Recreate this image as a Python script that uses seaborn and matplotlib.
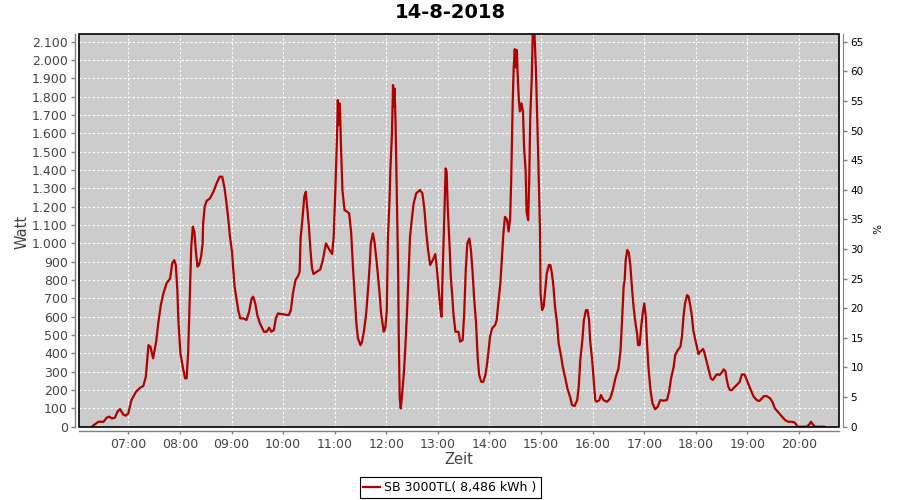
import matplotlib
matplotlib.use("Agg")
import matplotlib.pyplot as plt
import seaborn as sns
import pandas as pd
from matplotlib.ticker import FixedLocator, FuncFormatter
from matplotlib.patches import Rectangle

title = "14-8-2018"
series_name = "SB 3000TL( 8,486 kWh )"

# time of day in decimal hours, power in Watt
hours = [
    6.29, 6.42, 6.52, 6.58, 6.63, 6.68, 6.74, 6.79, 6.84, 6.90, 6.95, 7.00,
    7.06, 7.15, 7.23, 7.29, 7.34, 7.39, 7.43, 7.48, 7.54, 7.58, 7.63, 7.68,
    7.74, 7.81, 7.85, 7.89, 7.92, 7.95, 7.97, 8.01, 8.06, 8.10, 8.13, 8.16,
    8.19, 8.22, 8.25, 8.28, 8.31, 8.34, 8.37, 8.41, 8.44, 8.45, 8.48, 8.52,
    8.58, 8.65, 8.71, 8.77, 8.82, 8.86, 8.90, 8.94, 8.97, 9.01, 9.03, 9.06,
    9.10, 9.13, 9.17, 9.23, 9.29, 9.34, 9.39, 9.42, 9.46, 9.50, 9.55, 9.63,
    9.68, 9.73, 9.77, 9.82, 9.86, 9.90, 9.97, 10.11, 10.15, 10.19, 10.24, 10.29,
    10.32, 10.34, 10.37, 10.41, 10.44, 10.46, 10.50, 10.53, 10.56, 10.59, 10.65, 10.72,
    10.77, 10.83, 10.90, 10.95, 10.98, 11.01, 11.045, 11.06, 11.08, 11.10, 11.12, 11.15,
    11.19, 11.24, 11.28, 11.32, 11.35, 11.39, 11.42, 11.45, 11.50, 11.53, 11.57, 11.61,
    11.65, 11.68, 11.70, 11.74, 11.77, 11.81, 11.84, 11.87, 11.90, 11.95, 11.98, 12.01,
    12.03, 12.06, 12.08, 12.11, 12.13, 12.15, 12.16, 12.18, 12.19, 12.21, 12.23, 12.24,
    12.26, 12.28, 12.30, 12.34, 12.37, 12.40, 12.43, 12.46, 12.50, 12.53, 12.58, 12.65,
    12.70, 12.74, 12.77, 12.81, 12.85, 12.90, 12.95, 12.98, 13.01, 13.05, 13.07, 13.09,
    13.11, 13.13, 13.15, 13.17, 13.19, 13.23, 13.25, 13.28, 13.30, 13.34, 13.40, 13.43,
    13.48, 13.51, 13.54, 13.57, 13.61, 13.64, 13.67, 13.70, 13.74, 13.77, 13.80, 13.84,
    13.88, 13.92, 13.95, 13.98, 14.01, 14.05, 14.11, 14.14, 14.17, 14.21, 14.24, 14.27,
    14.30, 14.34, 14.37, 14.40, 14.42, 14.45, 14.47, 14.49, 14.51, 14.53, 14.55, 14.57,
    14.59, 14.62, 14.65, 14.67, 14.70, 14.72, 14.75, 14.77, 14.79, 14.82, 14.84, 14.87,
    14.90, 14.92, 14.94, 14.96, 14.98, 14.99, 15.02, 15.05, 15.08, 15.11, 15.15, 15.18,
    15.21, 15.24, 15.27, 15.31, 15.34, 15.39, 15.42, 15.47, 15.51, 15.57, 15.60, 15.65,
    15.70, 15.73, 15.76, 15.80, 15.83, 15.87, 15.90, 15.93, 15.95, 15.99, 16.02, 16.05,
    16.08, 16.13, 16.16, 16.21, 16.28, 16.34, 16.39, 16.44, 16.50, 16.54, 16.57, 16.60,
    16.62, 16.64, 16.67, 16.70, 16.73, 16.76, 16.79, 16.83, 16.86, 16.88, 16.91, 16.94,
    16.97, 17.00, 17.03, 17.05, 17.08, 17.12, 17.16, 17.21, 17.26, 17.31, 17.37, 17.44,
    17.48, 17.52, 17.57, 17.60, 17.65, 17.70, 17.73, 17.76, 17.79, 17.83, 17.86, 17.89,
    17.92, 17.95, 17.99, 18.02, 18.05, 18.08, 18.14, 18.16, 18.20, 18.25, 18.29, 18.33,
    18.37, 18.41, 18.46, 18.50, 18.54, 18.57, 18.60, 18.63, 18.66, 18.70, 18.74, 18.79,
    18.85, 18.89, 18.94, 18.97, 19.02, 19.06, 19.12, 19.18, 19.23, 19.28, 19.32, 19.37,
    19.44, 19.49, 19.53, 19.60, 19.66, 19.73, 19.79, 19.86, 19.92, 19.97, 20.15, 20.20,
    20.23, 20.26, 20.31, 20.49,
]
watt = [
    0, 27, 27, 49, 55, 45, 49, 82, 96, 67, 60, 73,
    145, 191, 213, 222, 273, 445, 436, 373, 464, 564, 664, 727,
    782, 809, 891, 909, 882, 745, 582, 400, 318, 264, 264, 409,
    700, 982, 1091, 1064, 955, 873, 882, 927, 1000, 1109, 1200, 1233,
    1245, 1282, 1327, 1364, 1364, 1309, 1227, 1127, 1036, 955, 873, 764,
    691, 636, 591, 591, 582, 627, 700, 709, 673, 609, 564, 518,
    518, 540, 518, 527, 591, 618, 614, 609, 636, 727, 800, 822,
    845, 1036, 1118, 1254, 1282, 1218, 1091, 964, 864, 833, 845, 858,
    909, 1000, 964, 942, 1036, 1273, 1582, 1782, 1645, 1764, 1545, 1291,
    1182, 1173, 1164, 1055, 891, 709, 564, 482, 445, 464, 527, 618,
    764, 891, 1000, 1055, 1009, 909, 818, 727, 618, 518, 536, 636,
    1018, 1218, 1409, 1600, 1864, 1745, 1845, 1655, 1491, 1182, 836, 527,
    155, 100, 155, 291, 436, 618, 818, 1036, 1145, 1218, 1273, 1291,
    1273, 1182, 1073, 964, 882, 909, 942, 864, 764, 636, 600, 818,
    1000, 1200, 1409, 1391, 1200, 964, 818, 709, 618, 518, 518, 464,
    473, 618, 855, 1000, 1027, 964, 855, 709, 564, 382, 282, 245,
    245, 282, 336, 409, 491, 536, 555, 582, 673, 780, 920, 1055,
    1145, 1130, 1065, 1135, 1335, 1775, 1964, 2060, 1960, 2055, 1891, 1782,
    1720, 1764, 1720, 1527, 1400, 1170, 1127, 1345, 1691, 1909, 2160, 2160,
    1945, 1745, 1527, 1291, 1055, 727, 636, 655, 745, 836, 882, 882,
    836, 764, 655, 564, 455, 382, 327, 264, 209, 155, 118, 113,
    145, 218, 364, 473, 582, 636, 636, 582, 473, 364, 255, 145,
    136, 145, 173, 145, 136, 155, 200, 264, 318, 418, 582, 764,
    800, 909, 964, 950, 880, 764, 660, 564, 509, 445, 445, 545,
    618, 673, 600, 473, 327, 200, 127, 95, 109, 145, 142, 145,
    191, 264, 327, 391, 418, 436, 491, 600, 673, 718, 709, 664,
    609, 527, 473, 436, 396, 409, 424, 409, 364, 309, 264, 255,
    273, 287, 282, 295, 313, 305, 255, 218, 200, 200, 213, 227,
    245, 285, 285, 267, 231, 204, 164, 145, 140, 155, 167, 167,
    155, 131, 100, 78, 58, 36, 27, 27, 22, 0, 0, 13,
    27, 15, 0, 0,
]

hour_ticks = list(range(7, 21))
watt_ticks = list(range(0, 2101, 100))
pct_ticks = list(range(0, 66, 5))

x_range = (6.044, 20.78)
watt_max = 2141
watt_per_pct = 2100 / 65

df = pd.DataFrame({"Zeit": hours, "Watt": watt})

fig = plt.figure(figsize=(9, 5), dpi=100)
ax = fig.add_axes([79 / 900, 1 - 426.7 / 500, (839.3 - 79) / 900, (426.7 - 34.3) / 500])
ax.set_facecolor("#cccccc")

sns.lineplot(data=df, x="Zeit", y="Watt", ax=ax, color="#b00000",
             linewidth=1.6, sort=False, label=series_name, legend=False)

ax.set_xlim(*x_range)
ax.set_ylim(0, watt_max)
ax.xaxis.set_major_locator(FixedLocator(hour_ticks))
ax.xaxis.set_major_formatter(FuncFormatter(lambda v, p: "%02d:00" % int(round(v))))
ax.yaxis.set_major_locator(FixedLocator(watt_ticks))
ax.yaxis.set_major_formatter(FuncFormatter(lambda v, p: "{:,}".format(int(v)).replace(",", ".")))
ax.grid(True, color="white", linestyle=(0, (2, 2)), linewidth=0.8)
ax.set_axisbelow(True)
ax.set_xlabel("")
ax.set_ylabel("")

for side in ["top", "right"]:
    ax.spines[side].set_visible(False)
for side in ["left", "bottom"]:
    ax.spines[side].set_position(("outward", 3))
    ax.spines[side].set_color("#808080")
    ax.spines[side].set_linewidth(1)
ax.tick_params(axis="y", length=3, width=1, color="#808080", labelsize=9,
               labelcolor="#444444", pad=2)
ax.tick_params(axis="x", length=2, width=1, color="#808080", labelsize=9,
               labelcolor="#444444", pad=3)

# plot area border
ax.add_patch(Rectangle((0, 0), 1, 1, transform=ax.transAxes, fill=False,
                       edgecolor="black", linewidth=1.2, zorder=5, clip_on=False))

# right axis in percent
ax2 = ax.twinx()
ax2.set_ylim(0, watt_max / watt_per_pct)
ax2.yaxis.set_major_locator(FixedLocator(pct_ticks))
for side in ["top", "left", "bottom"]:
    ax2.spines[side].set_visible(False)
ax2.spines["right"].set_position(("outward", 3))
ax2.spines["right"].set_color("#808080")
ax2.tick_params(axis="y", length=3, width=1, color="#808080", labelsize=7.5,
                labelcolor="black", pad=2)

fig.text(0.5, 1 - 12 / 500, title, ha="center", va="center",
         fontsize=14, fontweight="bold", color="black")
fig.text(459 / 900, 1 - 460 / 500, "Zeit", ha="center", va="center",
         fontsize=10.5, color="#444444")
fig.text(22 / 900, 1 - 232 / 500, "Watt", ha="center", va="center",
         rotation=90, fontsize=10.5, color="#444444")
fig.text(874 / 900, 1 - 229 / 500, "%", ha="center", va="center",
         rotation=-90, fontsize=7.5, color="black")

handles, labels = ax.get_legend_handles_labels()
leg = fig.legend(handles, labels, loc="center", bbox_to_anchor=(0.5, 1 - 487.5 / 500),
                 frameon=True, fancybox=False, edgecolor="black", framealpha=1,
                 fontsize=9, handlelength=1.3, handletextpad=0.4, borderpad=0.3,
                 borderaxespad=0)
leg.get_frame().set_linewidth(0.8)

fig.savefig("out.png", dpi=100)
